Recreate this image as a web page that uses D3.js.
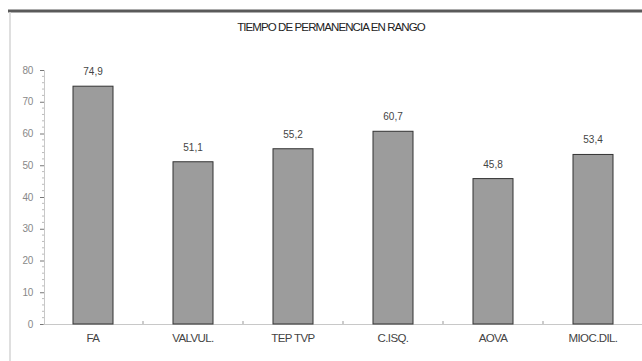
<!DOCTYPE html>
<html>
<head>
<meta charset="utf-8">
<script src="https://cdn.jsdelivr.net/npm/d3@7"></script>
<style>
  body { margin: 0; background: #fff; }
  text { font-family: "Liberation Sans", Arial, sans-serif; }
</style>
</head>
<body>
<script>
const categories = ['FA', 'VALVUL.', 'TEP TVP', 'C.ISQ.', 'AOVA', 'MIOC.DIL.']
const values = [74.9, 51.1, 55.2, 60.7, 45.8, 53.4]
const valueLabels = ['74,9', '51,1', '55,2', '60,7', '45,8', '53,4']
const yTicks = [0, 10, 20, 30, 40, 50, 60, 70, 80]
const title = 'TIEMPO DE PERMANENCIA EN RANGO'

let width = 642,
    height = 361

let svg = d3.select('body').append('svg')
  .attr('width', width)
  .attr('height', height)

// frame: heavy top rule, light left rule
svg.append('line')
  .attr('x1', 8).attr('x2', width)
  .attr('y1', 11).attr('y2', 11)
  .style('stroke', '#5a5a5a')
  .style('stroke-width', 3)
svg.append('line')
  .attr('x1', 10).attr('x2', 10)
  .attr('y1', 12).attr('y2', height)
  .style('stroke', '#d4d4d4')
  .style('stroke-width', 1.5)

svg.append('text')
  .attr('x', 331)
  .attr('y', 31)
  .attr('text-anchor', 'middle')
  .style('font-size', '11.5px')
  .style('letter-spacing', '-0.9px')
  .style('fill', '#222')
  .text(title)

const x = d3.scaleBand().domain(categories).range([43, 643]).paddingInner(0.6).paddingOuter(0.3)
const y = d3.scaleLinear().domain([0, 80]).range([324, 70])

// y axis
let yAxis = svg.append('g').attr('transform', 'translate(44, 0)')
  .call(d3.axisLeft(y).tickValues(yTicks).tickSize(4).tickFormat(d => d))
yAxis.select('.domain').style('stroke', '#c8c8c8')
yAxis.selectAll('.tick line').style('stroke', '#777')
yAxis.selectAll('.tick text')
  .attr('x', -11)
  .style('font-size', '10px')
  .style('letter-spacing', '-0.3px')
  .style('fill', '#888')
  .style('font-family', '"Liberation Sans", Arial, sans-serif')

// minor dotted ticks
let minor = d3.range(0, 80, 2).filter(v => v % 10 !== 0)
svg.append('g').selectAll('line').data(minor).enter().append('line')
  .attr('x1', 42).attr('x2', 44)
  .attr('y1', d => y(d)).attr('y2', d => y(d))
  .style('stroke', '#aaa')
  .style('stroke-width', 0.8)

// x axis
let step = x.step()
let xAxis = svg.append('g').attr('transform', `translate(0, ${y(0)})`)
  .call(d3.axisBottom(x).tickSize(0).tickPadding(10))
xAxis.select('.domain').style('stroke', '#c8c8c8')
xAxis.selectAll('.tick text')
  .style('font-size', '11.5px')
  .style('letter-spacing', '-0.6px')
  .style('fill', '#444')
  .style('font-family', '"Liberation Sans", Arial, sans-serif')
svg.append('g').selectAll('line').data(categories.slice(1)).enter().append('line')
  .attr('x1', d => x(d) + x.bandwidth() / 2 - step / 2)
  .attr('x2', d => x(d) + x.bandwidth() / 2 - step / 2)
  .attr('y1', y(0) - 3).attr('y2', y(0))
  .style('stroke', '#999')

// bars
svg.append('g').selectAll('rect').data(values).enter().append('rect')
  .attr('x', (d, i) => x(categories[i]))
  .attr('y', d => y(d))
  .attr('width', x.bandwidth())
  .attr('height', d => y(0) - y(d))
  .style('fill', '#9c9c9c')
  .style('stroke', '#333')
  .style('stroke-width', 1)

svg.append('g').selectAll('text').data(values).enter().append('text')
  .attr('x', (d, i) => x(categories[i]) + x.bandwidth() / 2)
  .attr('y', d => y(d) - 11)
  .attr('text-anchor', 'middle')
  .style('font-size', '10px')
  .style('fill', '#444')
  .text((d, i) => valueLabels[i])
</script>
</body>
</html>
